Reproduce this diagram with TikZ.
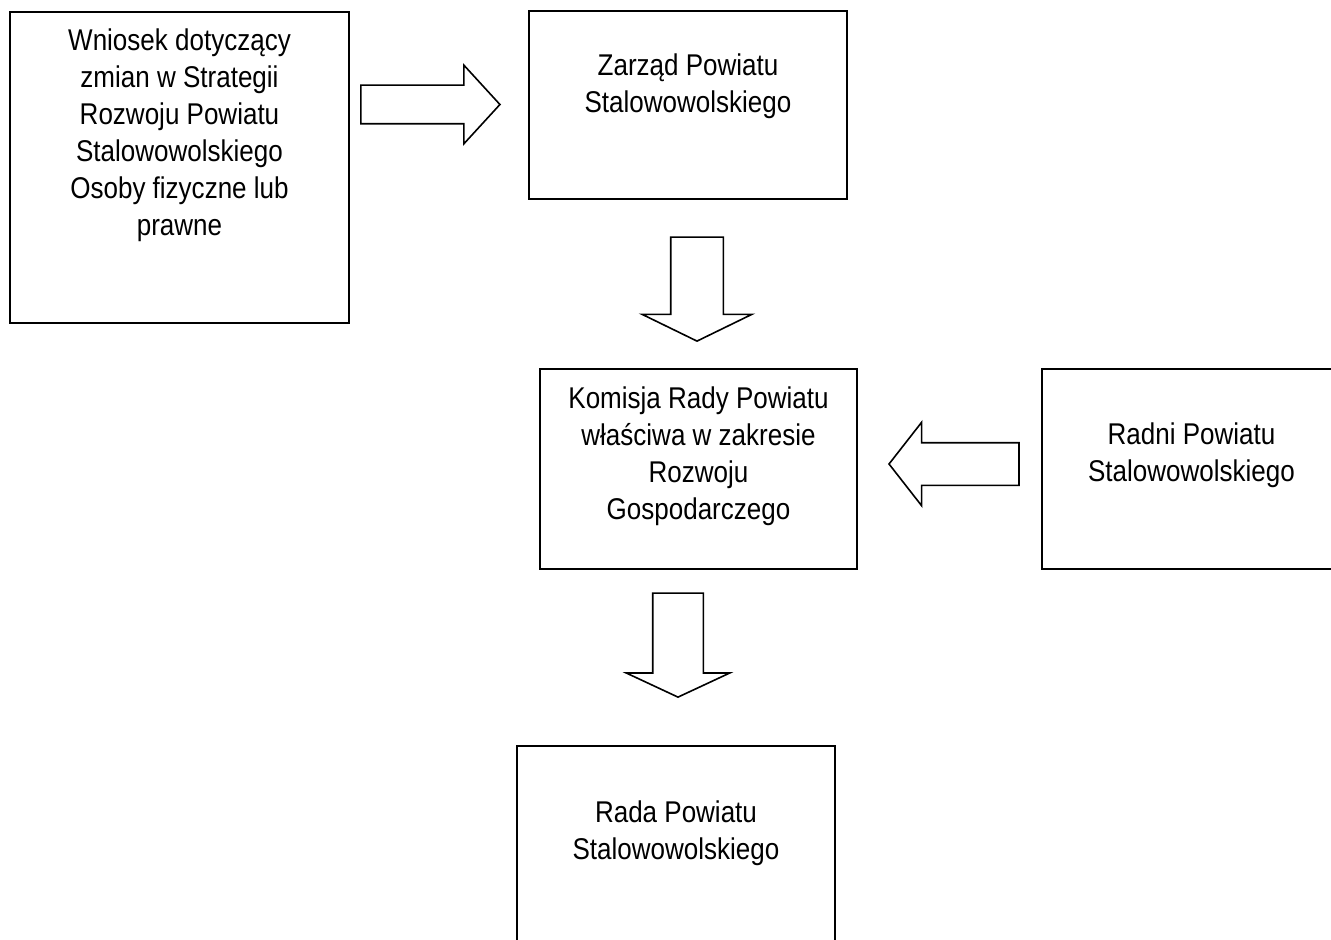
\documentclass[tikz,border=0pt]{standalone}
\usepackage{fontspec}
\setmainfont{Liberation Sans}[FakeStretch=0.867]
\usepackage{tikz}
\usetikzlibrary{shapes.arrows}

\begin{document}
\begin{tikzpicture}[
		x=0.5pt, y=-0.5pt,
		box/.style={rectangle, draw, line width=1pt, inner sep=0pt},
		txt/.style={anchor=north, align=center, inner sep=0pt, font=\fontsize{15pt}{18.5pt}\selectfont},
		blockarrow/.style={single arrow, draw, line width=0.8pt, inner xsep=0pt, single arrow head indent=0pt, anchor=tip}
	]
		% Frame
		\useasboundingbox (0,0) rectangle (1331,940);
		
		% Boxes
		\node[box, minimum width=169.5pt, minimum height=155.5pt] (wniosek) at (179.5,167.5) {};
		\node[box, minimum width=159pt, minimum height=94pt] (zarzad) at (688,105) {};
		\node[box, minimum width=158.5pt, minimum height=100pt] (komisja) at (698.5,469) {};
		\node[box, minimum width=149.5pt, minimum height=100pt] (radni) at (1191.5,469) {};
		\node[box, minimum width=159pt, minimum height=100pt] (rada) at (676,846) {};
		
		% Texts
		\node[txt] (wniosektxt) at (179.5,28.5) {Wniosek dotyczący\\zmian w Strategii\\Rozwoju Powiatu\\Stalowowolskiego\\Osoby fizyczne lub\\prawne};
		\node[txt] (zarzadtxt) at (688,53.5) {Zarząd Powiatu\\Stalowowolskiego};
		\node[txt] (komisjatxt) at (698.5,386.5) {Komisja Rady Powiatu\\właściwa w zakresie\\Rozwoju\\Gospodarczego};
		\node[txt] (radnitxt) at (1191.5,422.5) {Radni Powiatu\\Stalowowolskiego};
		\node[txt] (radatxt) at (676,800.5) {Rada Powiatu\\Stalowowolskiego};
		
		% Arrows
		\node[blockarrow, inner ysep=9.25pt, minimum height=69.5pt, single arrow head extend=10pt, single arrow tip angle=95] (arr1) at (501,104.5) {};
		\node[blockarrow, rotate=-90, inner ysep=12.75pt, minimum height=52pt, single arrow head extend=14.25pt, single arrow tip angle=128] (arr2) at (697,342) {};
		\node[blockarrow, rotate=180, inner ysep=10.25pt, minimum height=65pt, single arrow head extend=10.25pt, single arrow tip angle=104] (arr3) at (888,464) {};
		\node[blockarrow, rotate=-90, inner ysep=12.25pt, minimum height=52pt, single arrow head extend=13.25pt, single arrow tip angle=130] (arr4) at (678,698) {};
	\end{tikzpicture}
\end{document}
